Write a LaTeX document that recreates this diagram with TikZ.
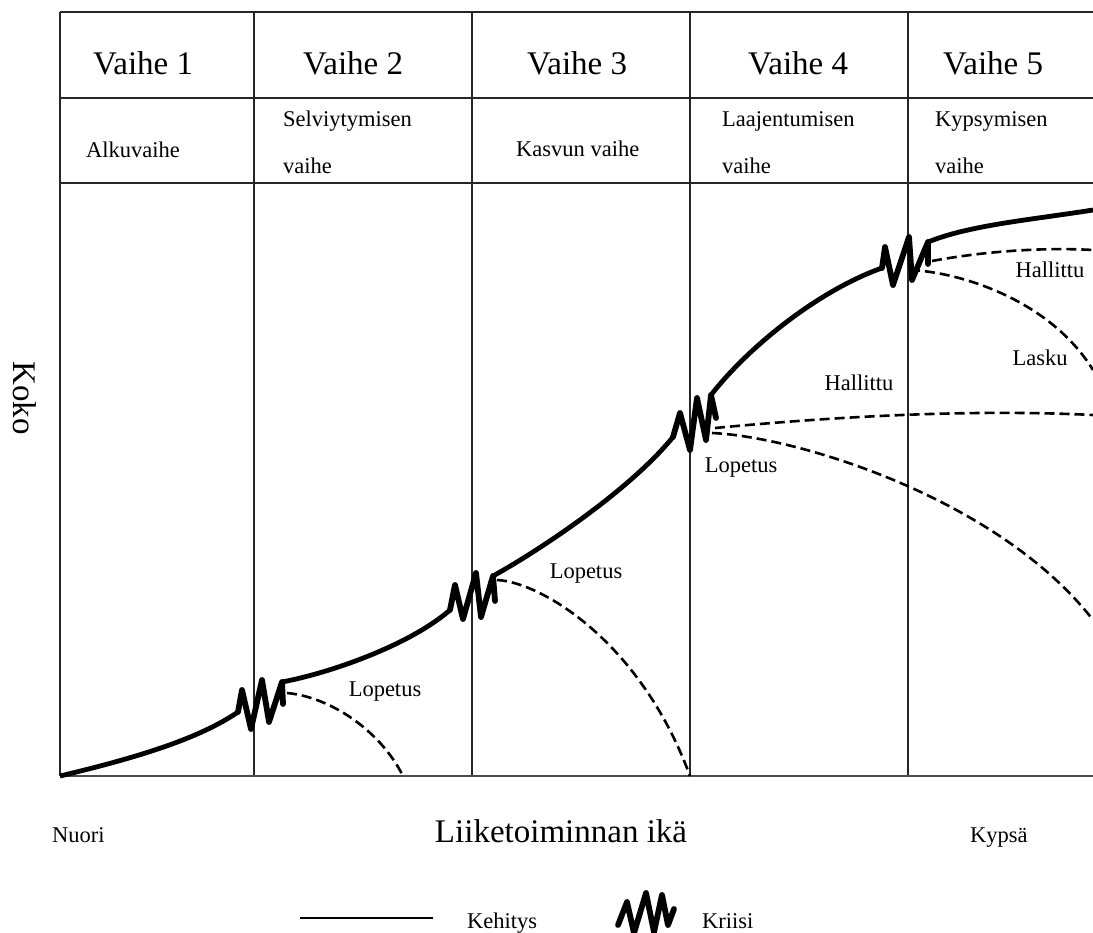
\documentclass[tikz,border=0pt]{standalone}
\usepackage{fontspec}
\setmainfont{Liberation Serif}
\begin{document}
\begin{tikzpicture}[x=1pt,y=-1pt,
  grid/.style={line width=1.2pt, black!85},
  axis/.style={line width=1.8pt, black!70},
  growth/.style={line width=4.8pt, line join=round},
  crisis/.style={line width=5.8pt, line join=round, line cap=round},
  branch/.style={line width=2.6pt, dash pattern=on 10pt off 5pt},
  big/.style={font=\fontsize{33}{38}\selectfont, inner sep=0pt},
  small/.style={font=\fontsize{22.5}{26}\selectfont, inner sep=0pt}]
\useasboundingbox (0,0) rectangle (1093,933);

% stage table and columns
\draw[grid] (60,12) -- (1093,12);
\draw[grid] (60,98) -- (1093,98);
\draw[grid] (60,183) -- (1093,183);
\foreach \x in {60,254,472,690,908} \draw[grid] (\x,12) -- (\x,776);
\draw[axis] (60,776) -- (1093,776);

% stage headings
\node[big, anchor=base west] (v1) at (93,75) {Vaihe 1};
\node[big, anchor=base west] (v2) at (303,75) {Vaihe 2};
\node[big, anchor=base west] (v3) at (527,75) {Vaihe 3};
\node[big, anchor=base west] (v4) at (748,75) {Vaihe 4};
\node[big, anchor=base west] (v5) at (943,75) {Vaihe 5};

\node[small, anchor=base west] (s1) at (86,158) {Alkuvaihe};
\node[small, anchor=base west] (s2a) at (283,127) {Selviytymisen};
\node[small, anchor=base west] (s2b) at (283,174) {vaihe};
\node[small, anchor=base west] (s3) at (516,157) {Kasvun vaihe};
\node[small, anchor=base west] (s4a) at (722,127) {Laajentumisen};
\node[small, anchor=base west] (s4b) at (722,174) {vaihe};
\node[small, anchor=base west] (s5a) at (935,127) {Kypsymisen};
\node[small, anchor=base west] (s5b) at (935,174) {vaihe};

% crisis points
\coordinate (z1) at (238,712); \coordinate (k1) at (282,682);
\coordinate (z2) at (450,610); \coordinate (k2) at (493,576);
\coordinate (z3) at (673,437); \coordinate (k3) at (711,395);
\coordinate (z4) at (882,268); \coordinate (k4) at (928,242);
\coordinate (o) at (60,776);
\coordinate (e) at (1093,210);

% growth curve
\draw[growth] (o) .. controls (140,757) and (200,738) .. (z1);
\draw[growth] (k1) .. controls (330,673) and (410,645) .. (z2);
\draw[growth] (k2) .. controls (540,550) and (630,490) .. (z3);
\draw[growth] (k3) .. controls (750,345) and (820,290) .. (z4);
\draw[growth] (k4) .. controls (970,225) and (1030,220) .. (e);

% crises
\draw[crisis] (z1) -- (242,690) -- (251,729) -- (262,680) -- (269,722) -- (k1) -- (283,704);
\draw[crisis] (z2) -- (455,585) -- (463,619) -- (476,573) -- (481,617) -- (k2) -- (495,601);
\draw[crisis] (z3) -- (680,413) -- (690,450) -- (697,398) -- (706,440) -- (k3) -- (716,418);
\draw[crisis] (z4) -- (885,247) -- (893,285) -- (909,237) -- (912,280) -- (k4) -- (928,264);

% alternative paths after each crisis
\coordinate (d1a) at (287,693); \coordinate (d1b) at (403,776);
\coordinate (d2a) at (497,580); \coordinate (d2b) at (690,776);
\coordinate (d3a) at (715,428); \coordinate (d3b) at (1093,415);
\coordinate (d4a) at (712,433); \coordinate (d4b) at (1093,620);
\coordinate (d5a) at (932,261); \coordinate (d5b) at (1093,250);
\coordinate (d6a) at (910,270); \coordinate (d6b) at (1093,370);
\draw[branch] (d1a) .. controls (330,697) and (380,730) .. (d1b);
\draw[branch] (d2a) .. controls (540,582) and (640,640) .. (d2b);
\draw[branch] (d3a) .. controls (800,420) and (950,408) .. (d3b);
\draw[branch] (d4a) .. controls (800,437) and (1000,500) .. (d4b);
\draw[branch] (d5a) .. controls (980,252) and (1040,247) .. (d5b);
\draw[branch] (d6a) .. controls (960,272) and (1050,300) .. (d6b);

\node[small] (l1) at (385,692) {Lopetus};
\node[small] (l2) at (586,574) {Lopetus};
\node[small] (l3) at (741,468) {Lopetus};
\node[small] (h1) at (859,383) {Hallittu};
\node[small] (h2) at (1050,270) {Hallittu};
\node[small] (la) at (1040,358) {Lasku};

% axes labels
\node[big, rotate=-90] (koko) at (25,398) {Koko};
\node[small, anchor=base west] (nuori) at (52,842) {Nuori};
\node[big, anchor=base] (ika) at (561,842) {Liiketoiminnan ikä};
\node[small, anchor=base west] (kypsa) at (970,842) {Kypsä};

% legend
\coordinate (la1) at (300,918); \coordinate (la2) at (433,918);
\draw[line width=2.5pt] (la1) -- (la2);
\node[small, anchor=base west] (keh) at (467,928) {Kehitys};
\draw[crisis] (618,925) -- (627,902) -- (634,933) -- (646,893) -- (654,932) -- (662,895) -- (668,925) -- (674,909);
\node[small, anchor=base west] (kri) at (702,928) {Kriisi};
\end{tikzpicture}
\end{document}
